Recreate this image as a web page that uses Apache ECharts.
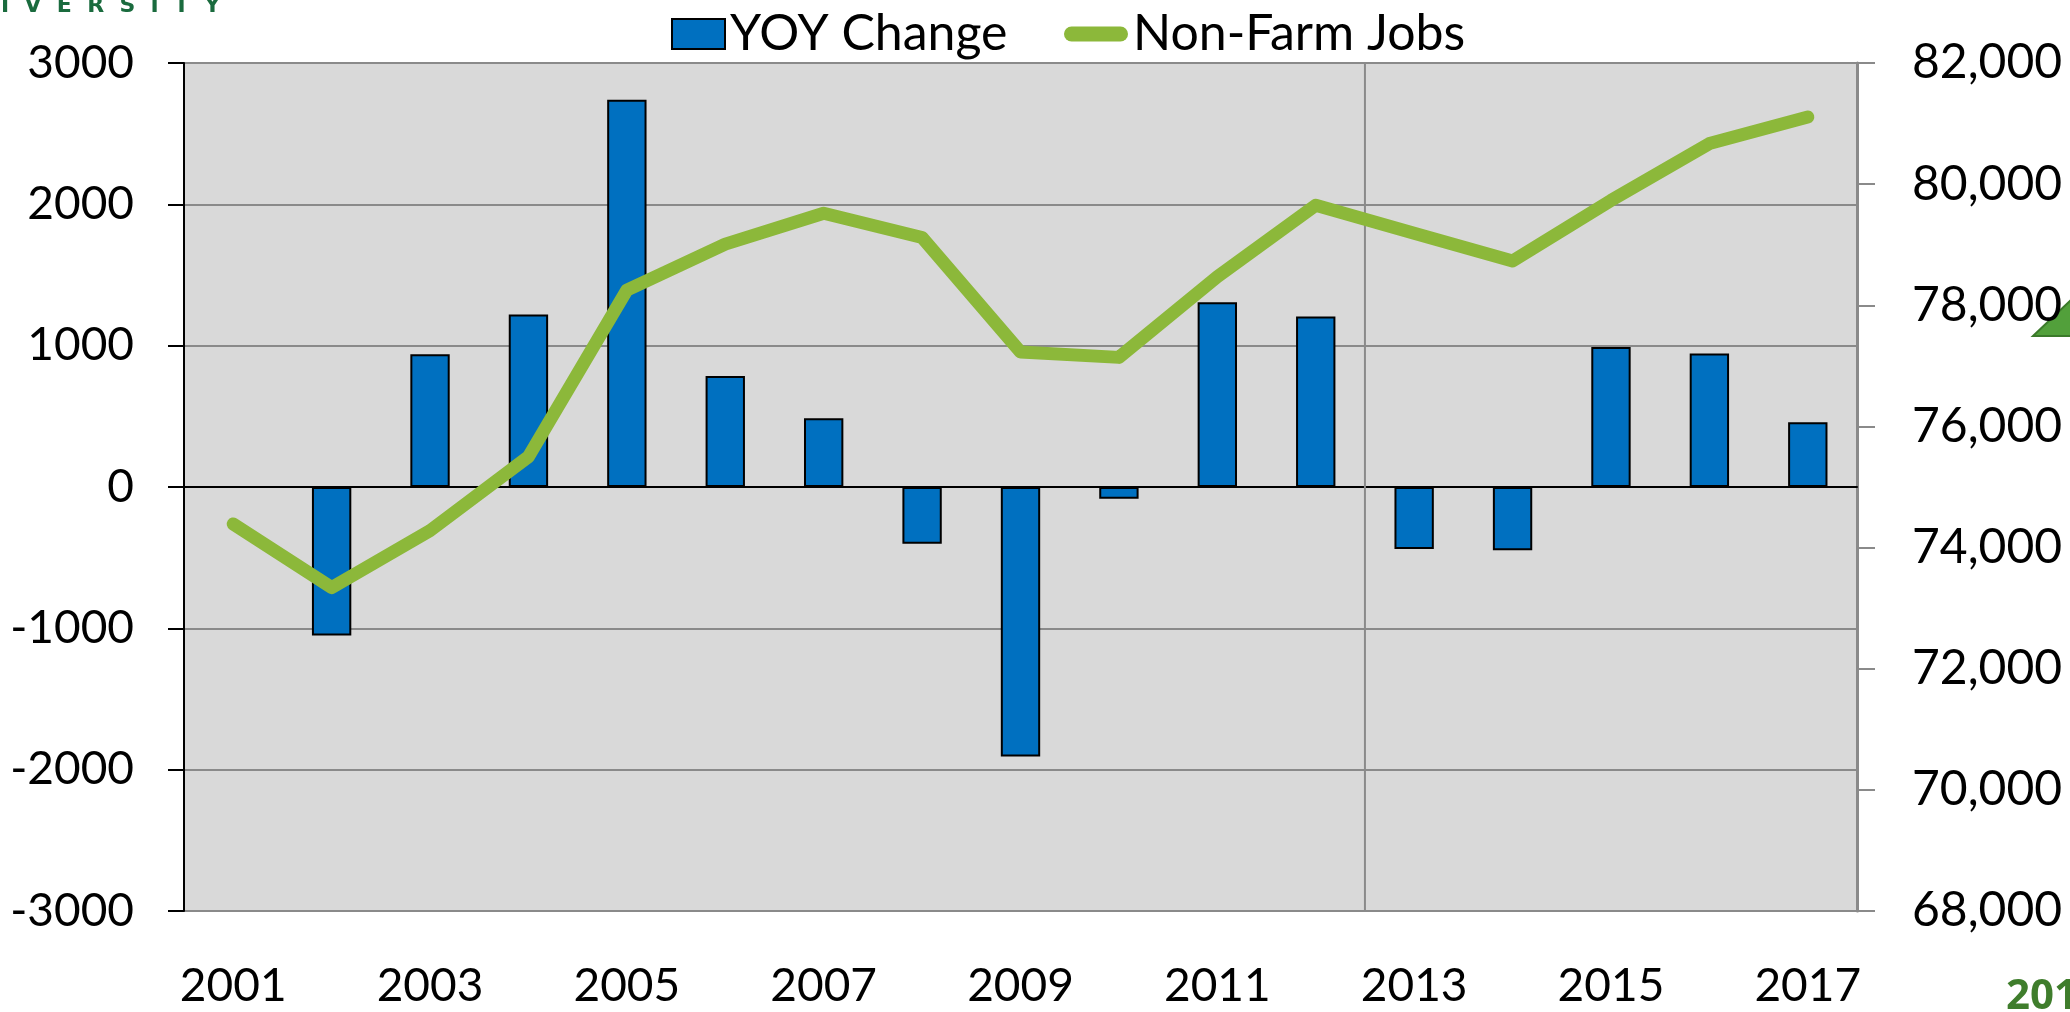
<!DOCTYPE html>
<html>
<head>
<meta charset="utf-8">
<script src="https://cdn.jsdelivr.net/npm/echarts@6/dist/echarts.min.js"></script>
<style>
  html, body {margin: 0; padding: 0; background: #fff;}
  #chart {width: 2070px; height: 1012px;}
</style>
</head>
<body>
<div id="chart"></div>
<script>
const years = ['2001','2002','2003','2004','2005','2006','2007','2008','2009',
               '2010','2011','2012','2013','2014','2015','2016','2017'];
const yoyChange = [null, -1050, 940, 1220, 2740, 785, 486, -402, -1907,
                   -84, 1308, 1206, -439, -448, 991, 944, 458];
const nonFarmJobs = [74390, 73340, 74280, 75500, 78250, 79010, 79520, 79120, 77230,
                     77140, 78470, 79650, 79190, 78730, 79730, 80670, 81110];
const leftAxis = {min: -3000, max: 3000, interval: 1000};
const rightAxis = {min: 68000, max: 82000, interval: 2000};
// vertical divider between 2012 and 2013 (category boundary index)
const dividerAt = 12;

const labelFont = 'Lato, "Open Sans", sans-serif';

const chart = echarts.init(document.getElementById('chart'));
chart.setOption({
  animation: false,
  grid: {
    left: 184, right: 213, top: 63, bottom: 101,
    show: true,
    backgroundColor: '#d9d9d9',
    borderColor: '#000',
    borderWidth: 2
  },
  legend: [{
    data: ['YOY Change'],
    left: 666, top: 4,
    icon: 'rect',
    itemWidth: 53, itemHeight: 30,
    textStyle: {fontFamily: labelFont, fontSize: 50, color: '#000'}
  }, {
    data: ['Non-Farm Jobs'],
    left: 1059, top: 4,
    icon: 'path://M7.5,0 H56.5 A7.5,7.5 0 0 1 56.5,15 H7.5 A7.5,7.5 0 0 1 7.5,0 Z',
    itemWidth: 64, itemHeight: 30,
    itemStyle: {color: '#8cb83a', borderWidth: 0},
    textStyle: {fontFamily: labelFont, fontSize: 50, color: '#000'}
  }],
  xAxis: [{
    type: 'category',
    data: years,
    boundaryGap: true,
    axisLine: {lineStyle: {color: '#000', width: 2}},
    axisTick: {show: false},
    axisLabel: {
      interval: 1,
      margin: 52,
      fontFamily: labelFont, fontSize: 46, color: '#000'
    },
    splitLine: {show: false}
  }, {
    type: 'value',
    min: 0, max: years.length,
    show: false
  }],
  yAxis: [{
    type: 'value',
    min: leftAxis.min, max: leftAxis.max, interval: leftAxis.interval,
    axisLine: {show: true, lineStyle: {color: '#000', width: 2}},
    axisTick: {show: true, inside: false, length: 16, lineStyle: {color: '#000', width: 2}},
    axisLabel: {
      margin: 50, fontFamily: labelFont, fontSize: 46, color: '#000',
      formatter: (v) => String(v)
    },
    splitLine: {show: true, lineStyle: {color: '#8a8a8a', width: 2}}
  }, {
    type: 'value',
    position: 'right',
    min: rightAxis.min, max: rightAxis.max, interval: rightAxis.interval,
    axisLine: {show: true, lineStyle: {color: '#8a8a8a', width: 3}},
    axisTick: {show: true, inside: false, length: 18, lineStyle: {color: '#8a8a8a', width: 2}},
    axisLabel: {
      margin: 55, fontFamily: labelFont, fontSize: 48, color: '#000',
      formatter: (v) => v.toLocaleString('en-US')
    },
    splitLine: {show: false}
  }],
  series: [{
    name: 'divider',
    type: 'line',
    xAxisIndex: 1,
    yAxisIndex: 0,
    data: [[dividerAt, leftAxis.min], [dividerAt, leftAxis.max]],
    symbol: 'none',
    silent: true,
    z: 1,
    lineStyle: {color: '#8a8a8a', width: 2}
  }, {
    name: 'YOY Change',
    type: 'bar',
    data: yoyChange,
    barWidth: '40%',
    z: 2,
    itemStyle: {color: '#0070c0', borderColor: '#000', borderWidth: 2}
  }, {
    name: 'Non-Farm Jobs',
    type: 'line',
    yAxisIndex: 1,
    data: nonFarmJobs,
    symbol: 'none',
    z: 3,
    itemStyle: {color: '#8cb83a'},
    lineStyle: {color: '#8cb83a', width: 13, cap: 'round', join: 'round'}
  }],
  graphic: [{
    type: 'text',
    x: 1, y: 17,
    style: {
      text: 'I  V  E  R  S  I  T  Y',
      font: 'bold 22px "DejaVu Sans", sans-serif',
      fill: '#1a6b3e',
      verticalAlign: 'bottom'
    }
  }, {
    type: 'text',
    left: 2006, top: 976,
    style: {
      text: '2017',
      font: 'bold 42px "Open Sans", sans-serif',
      fill: '#3f7d2c'
    }
  }, {
    type: 'polygon',
    shape: {points: [[2033, 336], [2072, 299], [2072, 336]]},
    style: {fill: '#52a03b', stroke: '#3b7a2a', lineWidth: 2}
  }]
});
</script>
</body>
</html>
